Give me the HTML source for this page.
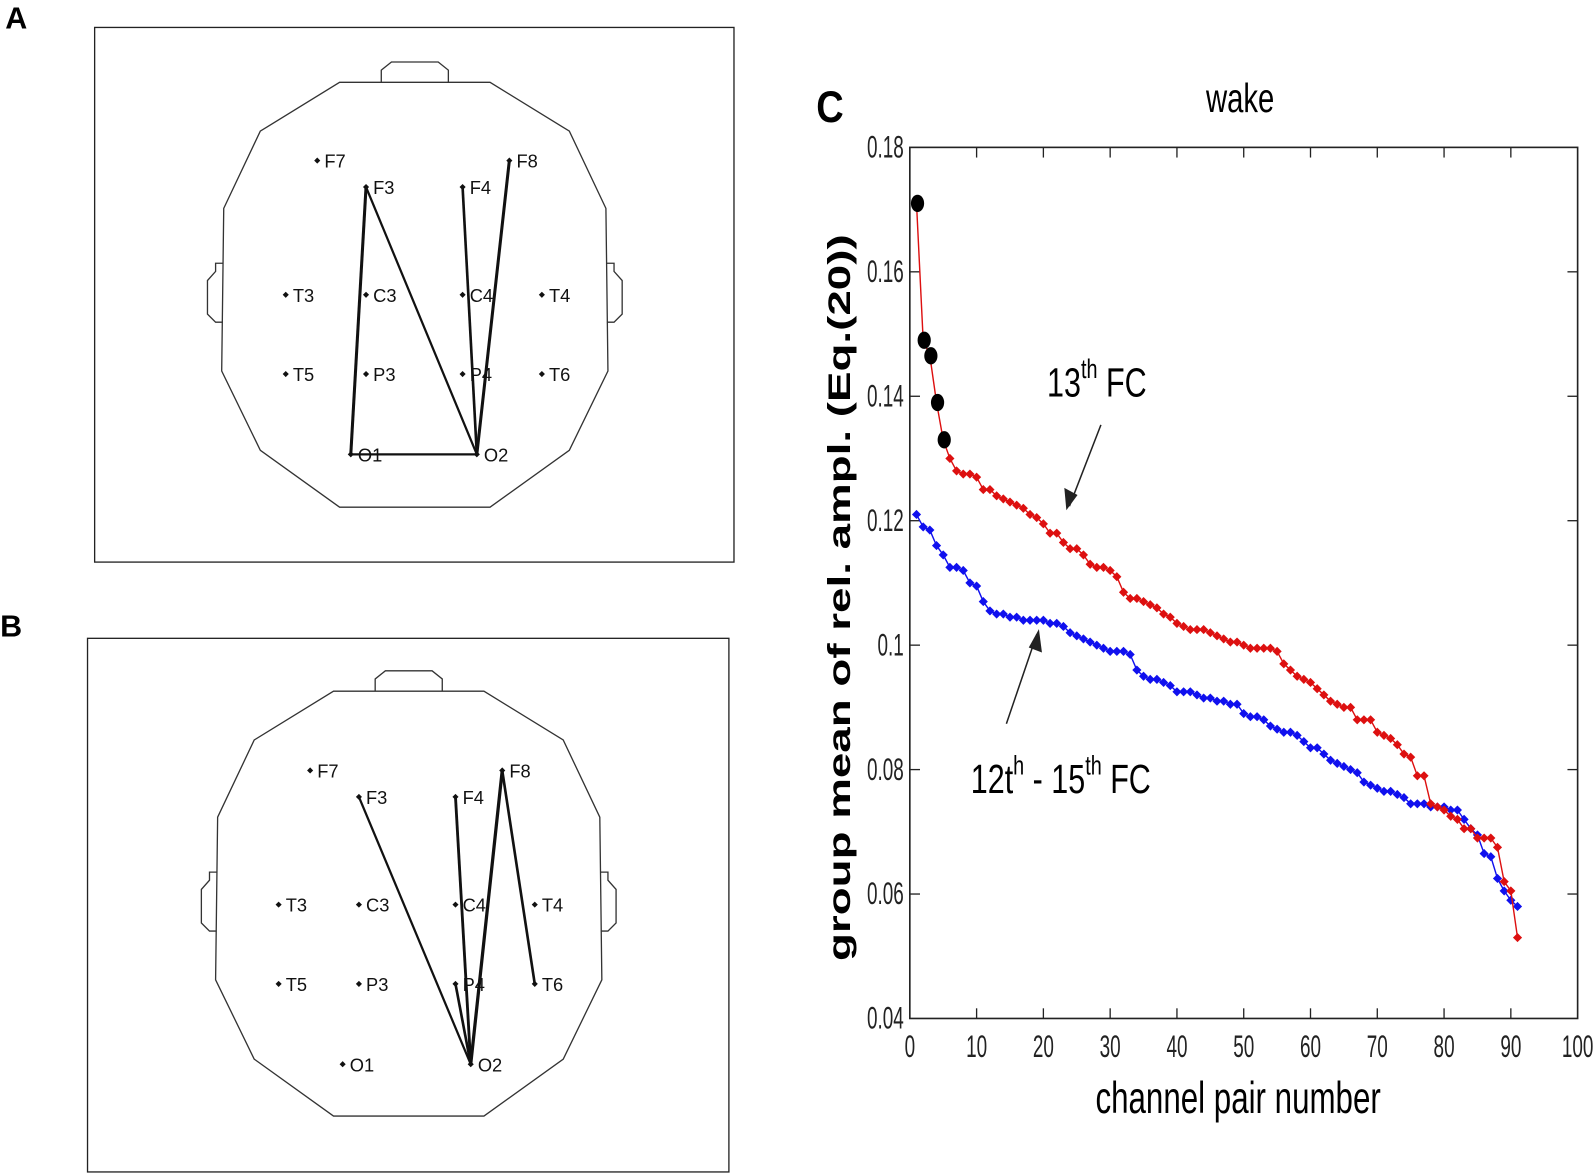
<!DOCTYPE html>
<html><head><meta charset="utf-8"><style>
html,body{margin:0;padding:0;background:#fff;}
svg{display:block;}
text{font-family:"Liberation Sans",sans-serif;}
</style></head><body>
<svg id="s" width="1594" height="1175" viewBox="0 0 1568 1156" xmlns="http://www.w3.org/2000/svg">
<rect x="0" y="0" width="1568" height="1156" fill="#fff"/>
<text x="5" y="28" font-size="30" font-weight="bold">A</text>
<text x="0" y="626" font-size="30" font-weight="bold">B</text>
<rect x="93" y="27" width="629" height="526" fill="none" stroke="#222" stroke-width="1.3"/>
<rect x="86" y="628" width="631" height="525" fill="none" stroke="#222" stroke-width="1.3"/>
<g id="heads"></g>
<text x="803" y="120" font-size="44" font-weight="bold" transform="translate(803,0) scale(0.85,1) translate(-803,0)">C</text>
<text x="1220" y="110" font-size="40" text-anchor="middle" transform="translate(1220,0) scale(0.72,1) translate(-1220,0)">wake</text>
<g id="chart"></g>
<text x="1218" y="1095" font-size="44" text-anchor="middle" transform="translate(1218,0) scale(0.7,1) translate(-1218,0)">channel pair number</text>
<text x="0" y="0" font-size="31" font-weight="bold" text-anchor="middle" transform="translate(836,588) rotate(-90)" textLength="715" lengthAdjust="spacingAndGlyphs">group mean of rel. ampl. (Eq.(20))</text>
<g transform="translate(1030,390) scale(0.75,1)"><text x="0" y="0" font-size="40">13<tspan font-size="26" dy="-18">th</tspan><tspan dy="18"> FC</tspan></text></g>
<g transform="translate(955,780) scale(0.75,1)"><text x="0" y="0" font-size="40">12t<tspan font-size="26" dy="-18">h</tspan><tspan dy="18"> - 15</tspan><tspan font-size="26" dy="-18">th</tspan><tspan dy="18"> FC</tspan></text></g>
<line x1="1083" y1="418" x2="1052" y2="498" stroke="#222" stroke-width="1.5"/>
<polygon points="1049,502 1047,480 1060,487" fill="#222"/>
<line x1="990" y1="712" x2="1020" y2="624" stroke="#222" stroke-width="1.5"/>
<polygon points="1022,619 1025,642 1012,637" fill="#222"/>
</svg>
<script>
var NS="http://www.w3.org/2000/svg";
function el(p,t,a,txt){var e=document.createElementNS(NS,t);for(var k in a)e.setAttribute(k,a[k]);if(txt!=null)e.textContent=txt;p.appendChild(e);return e;}
var H=document.getElementById('heads');
function head(cx,ty,E,L){
 var pts=[[-74,0],[74,0],[152,48],[188,124],[190,284],[152,362],[74,418],[-74,418],[-152,362],[-190,284],[-188,124],[-152,48]];
 el(H,'polygon',{points:pts.map(function(p){return (cx+p[0])+','+(ty+p[1])}).join(' '),fill:'none',stroke:'#333','stroke-width':1.3});
 el(H,'polyline',{points:[[cx-33,ty],[cx-33,ty-12],[cx-23,ty-20],[cx+23,ty-20],[cx+33,ty-12],[cx+33,ty]].map(function(p){return p.join(',')}).join(' '),fill:'none',stroke:'#333','stroke-width':1.3});
 [-1,1].forEach(function(s){
  var x0=cx+s*189,x1=cx+s*196,x2=cx+s*204;
  el(H,'polyline',{points:[[x0,ty+178],[x1,ty+178],[x1,ty+186],[x2,ty+195],[x2,ty+228],[x1,ty+236],[x0,ty+236]].map(function(p){return p.join(',')}).join(' '),fill:'none',stroke:'#333','stroke-width':1.3});
 });
 L.forEach(function(l){var a=E[l[0]],b=E[l[1]];el(H,'line',{x1:a[0],y1:a[1],x2:b[0],y2:b[1],stroke:'#111','stroke-width':l[2]||2.2});});
 for(var k in E){var p=E[k];
  el(H,'polygon',{points:(p[0]-3)+','+p[1]+' '+p[0]+','+(p[1]-3)+' '+(p[0]+3)+','+p[1]+' '+p[0]+','+(p[1]+3),fill:'#111'});
  el(H,'text',{x:p[0]+7,y:p[1]+7,'font-size':18,fill:'#111'},k);}
}
function mk(dx,dy){var b={F7:[312,158],F3:[360,184],F4:[455,184],F8:[501,158],T3:[281,290],C3:[360,290],C4:[455,290],T4:[533,290],T5:[281,368],P3:[360,368],P4:[455,368],T6:[533,368],O1:[345,447],O2:[469,447]};var r={};for(var k in b)r[k]=[b[k][0]+dx,b[k][1]+dy];return r;}
var EA=mk(0,0);
head(408,81,EA,[['O1','F3',3],['F3','O2',2.2],['O1','O2',2.2],['F4','O2',2.6],['F8','O2',3]]);
var EB=mk(-7,600);EB.O1=[337,1047];EB.O2=[463,1047];
head(402,680,EB,[['F3','O2',2.2],['F4','O2',2.8],['F8','O2',3.2],['P4','O2',2.6],['F8','T6',2.6]]);

var C=document.getElementById('chart');
var X0=895,X1=1552,Y0=1002,Y1=145;
function sx(v){return X0+(X1-X0)*v/100;}function sy(v){return Y0-(Y0-Y1)*(v-0.04)/0.14;}
el(C,'rect',{x:X0,y:Y1,width:X1-X0,height:Y0-Y1,fill:'none',stroke:'#222','stroke-width':1.6});
for(var i=0;i<=10;i++){var x=sx(i*10);
 if(i>0&&i<10){el(C,'line',{x1:x,y1:Y0,x2:x,y2:Y0-10,stroke:'#222','stroke-width':1.3});el(C,'line',{x1:x,y1:Y1,x2:x,y2:Y1+10,stroke:'#222','stroke-width':1.3});}
 var g=el(C,'g',{transform:'translate('+x+','+(Y0+38)+') scale(0.6,1)'});el(g,'text',{x:0,y:0,'font-size':31,'text-anchor':'middle',fill:'#222'},String(i*10));}
var yl=['0.04','0.06','0.08','0.1','0.12','0.14','0.16','0.18'];
yl.forEach(function(t,i){var y=sy(0.04+0.02*i);
 if(i>0&&i<7){el(C,'line',{x1:X0,y1:y,x2:X0+10,y2:y,stroke:'#222','stroke-width':1.3});el(C,'line',{x1:X1,y1:y,x2:X1-10,y2:y,stroke:'#222','stroke-width':1.3});}
 var g=el(C,'g',{transform:'translate('+(X0-6)+','+(y+10)+') scale(0.6,1)'});el(g,'text',{x:0,y:0,'font-size':31,'text-anchor':'end',fill:'#222'},t);});
var red=[0.171,0.149,0.1465,0.139,0.133,0.130,0.128,0.1275,0.1275,0.127,0.125,0.125,0.124,0.1235,0.123,0.1225,0.122,0.121,0.1205,0.1195,0.118,0.118,0.1165,0.1155,0.1155,0.1145,0.113,0.1125,0.1125,0.112,0.111,0.1085,0.1075,0.1075,0.107,0.1065,0.106,0.105,0.1045,0.1035,0.103,0.1025,0.1025,0.1025,0.102,0.1015,0.101,0.1005,0.1005,0.1,0.0995,0.0995,0.0995,0.0995,0.099,0.097,0.096,0.095,0.0945,0.094,0.093,0.092,0.091,0.0905,0.09,0.09,0.088,0.088,0.088,0.086,0.0855,0.085,0.084,0.0825,0.082,0.079,0.079,0.0745,0.074,0.0735,0.0725,0.072,0.0705,0.0705,0.069,0.069,0.069,0.0675,0.062,0.0605,0.053];
var blue=[0.121,0.119,0.1185,0.116,0.1145,0.1125,0.1125,0.112,0.110,0.1095,0.107,0.1055,0.105,0.105,0.1045,0.1045,0.104,0.104,0.104,0.104,0.1035,0.1035,0.103,0.102,0.1015,0.101,0.1005,0.100,0.0995,0.099,0.099,0.099,0.0985,0.096,0.095,0.0945,0.0945,0.094,0.0935,0.0925,0.0925,0.0925,0.092,0.0915,0.0915,0.091,0.091,0.0905,0.0905,0.089,0.0885,0.0885,0.088,0.087,0.0865,0.086,0.086,0.0855,0.0845,0.0835,0.0835,0.0825,0.0815,0.081,0.0805,0.080,0.0795,0.078,0.0775,0.077,0.0765,0.0765,0.076,0.0755,0.0745,0.0745,0.0745,0.074,0.074,0.074,0.0735,0.0735,0.072,0.0705,0.0695,0.0665,0.066,0.0625,0.0605,0.059,0.058];
function series(d,col){el(C,'polyline',{points:d.map(function(v,i){return sx(i+1)+','+sy(v)}).join(' '),fill:'none',stroke:col,'stroke-width':1.4});
 d.forEach(function(v,i){var x=sx(i+1),y=sy(v);el(C,'polygon',{points:(x-4.5)+','+y+' '+x+','+(y-4.5)+' '+(x+4.5)+','+y+' '+x+','+(y+4.5),fill:col});});}
series(blue,'#1010ee');series(red,'#dd1010');
for(var i=0;i<5;i++)el(C,'ellipse',{cx:sx(i+1)+1,cy:sy(red[i]),rx:6.5,ry:8.5,fill:'#000'});
</script>
</body></html>
